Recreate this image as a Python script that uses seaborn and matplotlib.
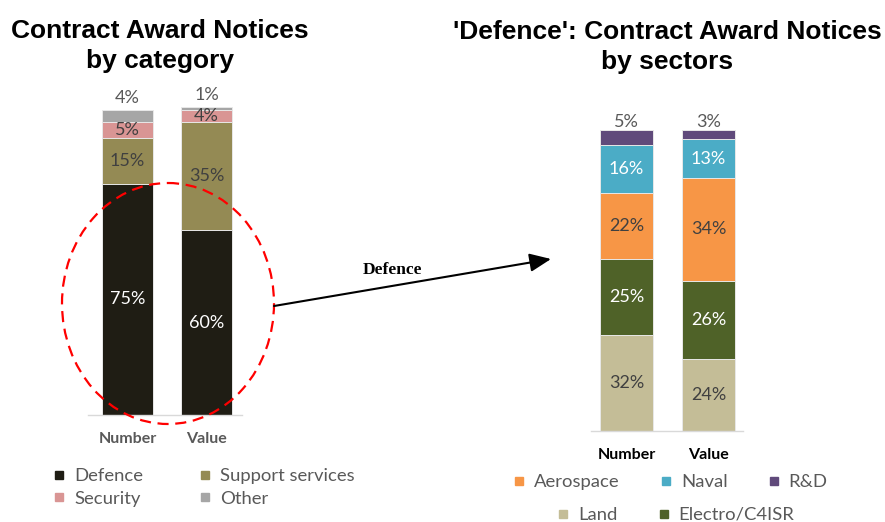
import matplotlib
matplotlib.use("Agg")
import matplotlib.pyplot as plt
import pandas as pd
import seaborn as sns
from matplotlib.patches import Ellipse
from matplotlib.lines import Line2D

# ---- data -------------------------------------------------------------
measures = ["Number", "Value"]

cat_names = ["Defence", "Support services", "Security", "Other"]
cat_number = [75, 15, 5, 4]
cat_value = [60, 35, 4, 1]
cat_colors = ["#1f1d14", "#948a54", "#d99594", "#a6a6a6"]
cat_text = ["white", "#404040", "#404040", "#595959"]

sec_names = ["Land", "Electro/C4ISR", "Aerospace", "Naval", "R&D"]
sec_number = [32, 25, 22, 16, 5]
sec_value = [24, 26, 34, 13, 3]
sec_colors = ["#c4bd97", "#4f6228", "#f79646", "#4bacc6", "#604a7b"]
sec_text = ["#404040", "white", "#404040", "white", "#404040"]

W, H = 885, 522
sns.set_theme(style="white")
plt.rcParams["font.family"] = ["Lato", "DejaVu Sans"]

fig = plt.figure(figsize=(W / 100, H / 100), dpi=100)


def px_axes(x0, x1, ytop, ybot):
    return fig.add_axes([x0 / W, 1 - ybot / H, (x1 - x0) / W, (ybot - ytop) / H])


def stacked(ax, names, number, value, colors, text_colors, xlim, tick_color, top_offset):
    rows = []
    for m, vals in zip(measures, [number, value]):
        cum = 0
        for n, v in zip(names, vals):
            cum += v
            rows.append({"measure": m, "segment": n, "share": v, "cum": cum})
    df = pd.DataFrame(rows)
    # draw cumulative totals from the top layer down so lower layers overlay
    for i in reversed(range(len(names))):
        sub = df[df.segment == names[i]]
        sns.barplot(data=sub, x="measure", y="cum", order=measures, color=colors[i],
                    saturation=1, width=0.646, edgecolor="#e8e8e8", linewidth=0.7,
                    ax=ax, zorder=2)
    for j, m in enumerate(measures):
        sub = df[df.measure == m].reset_index(drop=True)
        for i, r in sub.iterrows():
            if i == len(sub) - 1:
                y = r.cum + top_offset
                col = "#595959"
            else:
                y = r.cum - r.share / 2
                col = text_colors[i]
            ax.text(j, y, f"{r.share:g}%", ha="center", va="center",
                    fontsize=13, color=col, zorder=3)
    ax.set_xlim(*xlim)
    ax.set_ylim(0, 100)
    ax.set_xlabel("")
    ax.set_ylabel("")
    ax.set_yticks([])
    for s in ["left", "right", "top"]:
        ax.spines[s].set_visible(False)
    ax.spines["bottom"].set_color("#d9d9d9")
    ax.spines["bottom"].set_linewidth(1)
    ax.tick_params(axis="x", length=0, pad=12, colors=tick_color)
    for lab in ax.get_xticklabels():
        lab.set_fontweight("bold")
        lab.set_fontsize(11.5)
        lab.set_color(tick_color)
    ax.patch.set_alpha(0)


ax1 = px_axes(88, 242, 107, 415)
stacked(ax1, cat_names, cat_number, cat_value, cat_colors, cat_text,
        (-0.5, 1.45), "#595959", 4.0)

ax2 = px_axes(591, 743, 130, 431)
stacked(ax2, sec_names, sec_number, sec_value, sec_colors, sec_text,
        (-0.433, 1.42), "black", 2.8)


def handles(names, colors):
    return [Line2D([], [], marker="s", linestyle="", markersize=6,
                   markerfacecolor=c, markeredgecolor=c) for c in colors], names


LEG = 13.3
# left legend: two columns
order = [0, 2, 1, 3]
h, l = handles([cat_names[i] for i in order], [cat_colors[i] for i in order])
fig.legend(h, l, ncol=2, loc="upper left", bbox_to_anchor=(53 / W, 1 - 468 / H),
           frameon=False, fontsize=LEG, handlelength=0.7, handletextpad=0.45,
           columnspacing=3.0, labelspacing=0.36, borderpad=0, borderaxespad=0,
           labelcolor="#595959")

# right legend: two rows
h, l = handles(["Aerospace", "Naval", "R&D"], [sec_colors[2], sec_colors[3], sec_colors[4]])
fig.legend(h, l, ncol=3, loc="center left", bbox_to_anchor=(513 / W, 1 - 482 / H),
           frameon=False, fontsize=LEG, handlelength=0.7, handletextpad=0.45,
           columnspacing=2.15, borderpad=0, borderaxespad=0, labelcolor="#595959")
h, l = handles(["Land", "Electro/C4ISR"], [sec_colors[0], sec_colors[1]])
fig.legend(h, l, ncol=2, loc="center left", bbox_to_anchor=(557 / W, 1 - 515 / H),
           frameon=False, fontsize=LEG, handlelength=0.7, handletextpad=0.45,
           columnspacing=2.15, borderpad=0, borderaxespad=0, labelcolor="#595959")

# overlay in pixel coordinates: titles, highlight ellipse, arrow
ov = fig.add_axes([0, 0, 1, 1], zorder=10)
ov.set_xlim(0, W)
ov.set_ylim(H, 0)
ov.axis("off")
ov.patch.set_alpha(0)

title_kw = dict(ha="center", va="center", fontsize=19, fontweight="bold",
                family=["Liberation Sans", "DejaVu Sans"], linespacing=1.3, color="black")
ov.text(160, 46, "Contract Award Notices\nby category", **title_kw)
ov.text(667, 47, "'Defence': Contract Award Notices\nby sectors", **title_kw)

ov.add_patch(Ellipse((168, 303.5), 212, 241, fill=False, edgecolor="red",
                     linewidth=1.6, linestyle=(0, (5, 3))))
ov.annotate("", xy=(551, 259), xytext=(274, 306),
            arrowprops=dict(arrowstyle="-|>,head_length=0.65,head_width=0.28",
                            mutation_scale=20, color="black", lw=1.5,
                            shrinkA=0, shrinkB=0))
ov.text(392, 270, "Defence", ha="center", va="center", fontsize=12.5,
        fontweight="bold", family=["Liberation Serif", "DejaVu Serif"], color="black")

fig.savefig("out.png", dpi=100)
